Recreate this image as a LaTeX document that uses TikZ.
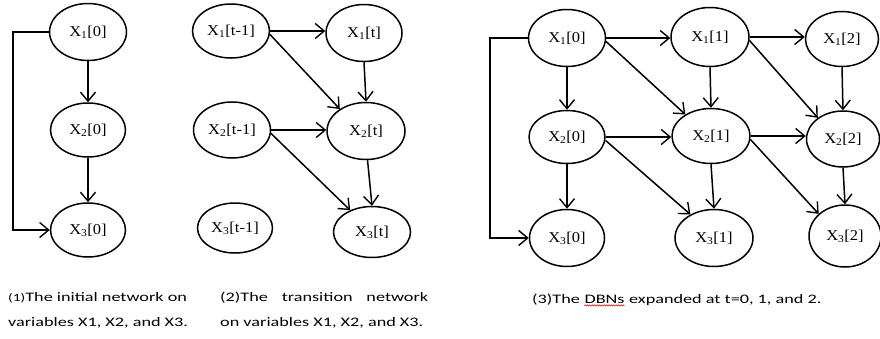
\documentclass[tikz,border=0pt]{standalone}
\usepackage{fontspec}
\setmainfont{Liberation Serif}
\newfontfamily\lblfont[FakeStretch=1.1]{Liberation Serif}
\newfontfamily\capfont[FakeStretch=1.4]{Carlito}
\usetikzlibrary{shapes.geometric,arrows.meta,decorations.pathmorphing}
% variable label: X with subscript index and time slice
\newcommand{\xv}[2]{X\textsubscript{#1}[#2]}
\tikzset{
  var/.style={ellipse, draw, line width=1.5pt, inner sep=0pt,
    font=\lblfont\fontsize{15}{17}\selectfont},
  dep/.style={line width=1.5pt, -{Straight Barb[length=9pt,width=15pt,line width=1.4pt]}},
  captext/.style={inner sep=0pt, font=\capfont\fontsize{13}{25}\selectfont},
}
\begin{document}
\begin{tikzpicture}[x=1pt,y=-1pt]
\useasboundingbox (0,0) rectangle (880,338);

% ---- (1) initial network ----
\node[var, minimum width=77pt, minimum height=57pt] (c1) at (88,32)  {\xv{1}{0}};
\node[var, minimum width=75pt, minimum height=54pt] (c2) at (88,130) {\xv{2}{0}};
\node[var, minimum width=75pt, minimum height=54pt] (c3) at (88,230) {\xv{3}{0}};
\coordinate (c1L) at (13,32);
\draw[dep] (c1.south) -- (c2.north);
\draw[dep] (c2.south) -- (c3.north);
\draw[dep] (c1.west) -- (c1L) |- (c3.west);

% ---- (2) transition network ----
\node[var, minimum width=77pt, minimum height=54pt] (b11) at (231,31)  {\xv{1}{t-1}};
\node[var, minimum width=76pt, minimum height=57pt] (b12) at (364,33)  {\xv{1}{t}};
\node[var, minimum width=77pt, minimum height=56pt] (b21) at (232,130) {\xv{2}{t-1}};
\node[var, minimum width=78pt, minimum height=57pt] (b22) at (366,131) {\xv{2}{t}};
\node[var, minimum width=75pt, minimum height=50pt] (b31) at (235,228) {\xv{3}{t-1}};
\node[var, minimum width=77pt, minimum height=51pt] (b32) at (372,232) {\xv{3}{t}};
\draw[dep] (b11.east) -- (b11.east -| b12.west);
\draw[dep] (b11.-5) -- (b22.140);
\draw[dep] (b12.south) -- (b22.north);
\draw[dep] (b21.east) -- (b21.east -| b22.west);
\draw[dep] (b21.-5) -- (b32.135);
\draw[dep] (b22.-87) -- (b32.north);

% ---- (3) unrolled DBN ----
\node[var, minimum width=77pt, minimum height=57pt] (a10) at (567,38)  {\xv{1}{0}};
\node[var, minimum width=78pt, minimum height=59pt] (a11) at (710,37)  {\xv{1}{1}};
\node[var, minimum width=73pt, minimum height=55pt] (a12) at (842,39)  {\xv{1}{2}};
\node[var, minimum width=76pt, minimum height=53pt] (a20) at (567,137) {\xv{2}{0}};
\node[var, minimum width=78pt, minimum height=55pt] (a21) at (711,136) {\xv{2}{1}};
\node[var, minimum width=73pt, minimum height=56pt] (a22) at (843,139) {\xv{2}{2}};
\node[var, minimum width=75pt, minimum height=57pt] (a30) at (567,238) {\xv{3}{0}};
\node[var, minimum width=78pt, minimum height=57pt] (a31) at (714,238) {\xv{3}{1}};
\node[var, minimum width=72pt, minimum height=62pt] (a32) at (845,236) {\xv{3}{2}};
\coordinate (a10L) at (490,38);
\draw[dep] (a10.west) -- (a10L) |- (a30.west);
\draw[dep] (a10.east) -- (a10.east -| a11.west);
\draw[dep] (a10.-5) -- (a21.140);
\draw[dep] (a10.south) -- (a20.north);
\draw[dep] (a11.east) -- (a11.east -| a12.west);
\draw[dep] (a11.south) -- (a21.north);
\draw[dep] (a11.-5) -- (a22.140);
\draw[dep] (a12.south) -- (a22.north);
\draw[dep] (a20.east) -- (a20.east -| a21.west);
\draw[dep] (a20.south) -- (a30.north);
\draw[dep] (a20.-5) -- (a31.135);
\draw[dep] (a21.east) -- (a21.east -| a22.west);
\draw[dep] (a21.south) -- (a31.north);
\draw[dep] (a21.-5) -- (a32.140);
\draw[dep] (a22.south) -- (a32.north);

% ---- captions (anchored at the baseline of the last line) ----
\node[captext, anchor=base west, align=left] (cap1) at (8,326)
  {{\fontsize{11}{25}\selectfont(1)}The initial network on\\variables X1, X2, and X3.};
\node[captext, anchor=base west, align=left] (cap2) at (220,326)
  {\makebox[208pt][s]{(2)The transition network}\\on variables X1, X2, and X3.};
\node[captext, anchor=base west] (cap3a) at (532,303) {(3)The};
\node[captext, anchor=base west] (cap3b) at ([xshift=4.2pt]cap3a.base east) {DBNs};
\node[captext, anchor=base west] (cap3c) at ([xshift=4.2pt]cap3b.base east) {expanded at t=0, 1, and 2.};
\draw[red!85!black, line width=0.5pt, decorate,
  decoration={snake, amplitude=0.7pt, segment length=2.4pt}]
  ([yshift=-2.4pt]cap3b.base west) -- ([yshift=-2.4pt]cap3b.base east);
\end{tikzpicture}
\end{document}
